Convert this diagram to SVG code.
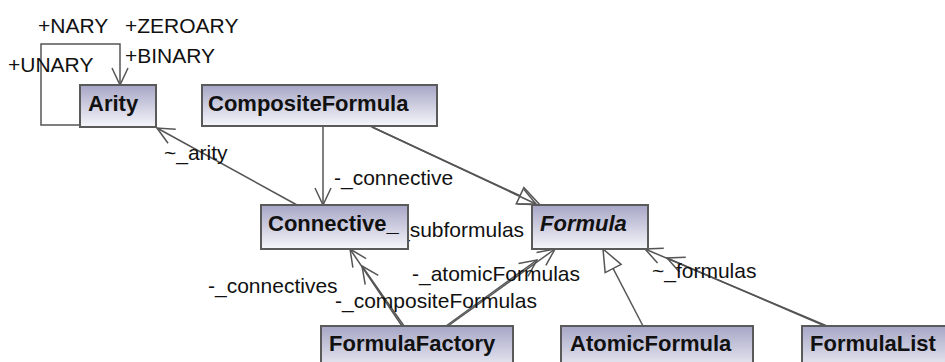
<svg xmlns="http://www.w3.org/2000/svg" width="945" height="362" viewBox="0 0 945 362">
<style>
.box{fill:url(#g);stroke:#5a5a5a;stroke-width:2}
.name{font-family:"Liberation Sans",Arial,sans-serif;font-size:22px;font-weight:bold;fill:#111}
.lbl{font-family:"Liberation Sans",Arial,sans-serif;font-size:21px;fill:#111}
.e{fill:none;stroke:#555;stroke-width:1.5}
</style>
<defs>
<linearGradient id="g" x1="0" y1="0" x2="0" y2="1">
<stop offset="0" stop-color="#a6a6c6"/>
<stop offset="1" stop-color="#f6f6fb"/>
</linearGradient>
<marker id="open" viewBox="0 0 20 20" refX="19" refY="10" markerWidth="20" markerHeight="20" markerUnits="userSpaceOnUse" orient="auto">
<path d="M2,2 L19,10 L2,18" fill="none" stroke="#555" stroke-width="1.5"/>
</marker>
<marker id="tri" viewBox="0 0 24 24" refX="23" refY="12" markerWidth="24" markerHeight="24" markerUnits="userSpaceOnUse" orient="auto">
<path d="M1,3 L23,12 L1,21 Z" fill="#fff" stroke="#555" stroke-width="1.5"/>
</marker>
</defs>
<g id="connectors">
<polyline class="e" points="80,125 41,125 41,44 120,44 120,85" marker-end="url(#open)"/>
<line class="e" x1="297" y1="205" x2="157" y2="128" marker-end="url(#open)"/>
<line class="e" x1="323" y1="126" x2="323" y2="205" marker-end="url(#open)"/>
<line class="e" x1="370" y1="126" x2="540" y2="205" marker-end="url(#tri)"/>
<line class="e" x1="372" y1="127" x2="536" y2="204" marker-end="url(#open)"/>
<line class="e" x1="402" y1="326" x2="350" y2="249" marker-end="url(#open)"/>
<line class="e" x1="404" y1="326" x2="362" y2="266" marker-end="url(#open)"/>
<line class="e" x1="448" y1="326" x2="555" y2="249" marker-end="url(#open)"/>
<line class="e" x1="446" y1="326" x2="537" y2="260" marker-end="url(#open)"/>
<line class="e" x1="643" y1="326" x2="603" y2="249" marker-end="url(#tri)"/>
<line class="e" x1="827" y1="326" x2="645" y2="249" marker-end="url(#open)"/>
<line class="e" x1="825" y1="326" x2="667" y2="258" marker-end="url(#open)"/>
</g>
<g id="labels">
<text class="lbl" x="38" y="33">+NARY</text>
<text class="lbl" x="125" y="33">+ZEROARY</text>
<text class="lbl" x="8" y="72">+UNARY</text>
<text class="lbl" x="125" y="63">+BINARY</text>
<text class="lbl" x="164" y="160">~_arity</text>
<text class="lbl" x="334" y="185">-_connective</text>
<text class="lbl" x="398" y="237">_subformulas</text>
<text class="lbl" x="208" y="293">-_connectives</text>
<text class="lbl" x="335" y="308">-_compositeFormulas</text>
<text class="lbl" x="412" y="281">-_atomicFormulas</text>
<text class="lbl" x="652" y="278">~_formulas</text>
</g>
<g id="Arity"><rect class="box" x="80" y="85" width="76" height="42"/><text class="name" x="88" y="111">Arity</text></g>
<g id="CompositeFormula"><rect class="box" x="202" y="85" width="235" height="41"/><text class="name" x="208" y="111">CompositeFormula</text></g>
<g id="Connective"><rect class="box" x="261" y="205" width="147" height="44"/><text class="name" x="268" y="231">Connective_</text></g>
<g id="Formula"><rect class="box" x="532" y="205" width="116" height="44"/><text class="name" x="540" y="231" font-style="italic">Formula</text></g>
<g id="FormulaFactory"><rect class="box" x="321" y="326" width="192" height="50"/><text class="name" x="329" y="351">FormulaFactory</text></g>
<g id="AtomicFormula"><rect class="box" x="561" y="326" width="192" height="50"/><text class="name" x="570" y="351">AtomicFormula</text></g>
<g id="FormulaList"><rect class="box" x="802" y="326" width="150" height="50"/><text class="name" x="810" y="351">FormulaList</text></g>
</svg>
